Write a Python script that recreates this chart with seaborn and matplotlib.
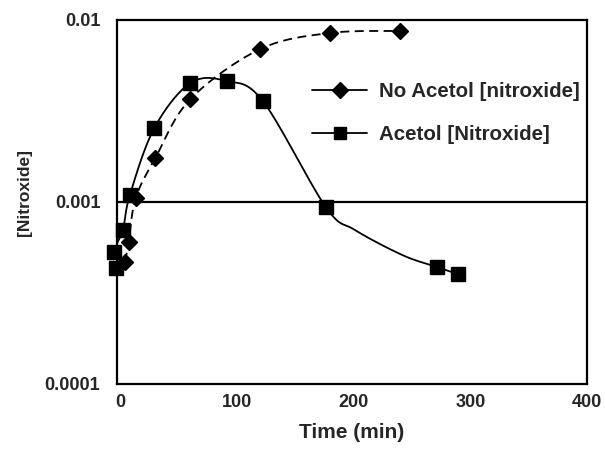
import matplotlib
matplotlib.use("Agg")
import matplotlib.pyplot as plt
from matplotlib.lines import Line2D
import numpy as np
import pandas as pd
import seaborn as sns

# series
no_acetol_t = [4, 7, 13, 30, 60, 120, 180, 240]
no_acetol_c = [0.00047, 0.00060, 0.00105, 0.00175, 0.00368, 0.00693, 0.00849, 0.00870]

acetol_t = [-4, -6, 2, 8, 29, 60, 91, 122, 176, 271, 289]
acetol_c = [0.000434, 0.000531, 0.000702, 0.00109, 0.00255, 0.00451, 0.00462,
            0.00359, 0.000939, 0.00044, 0.000402]
# unmarked bends of the solid curve between 176 and 271 min
acetol_line_t = [-4, -6, 2, 8, 29, 60, 91, 122, 176, 201, 242, 271, 289]
acetol_line_c = [0.000434, 0.000531, 0.000702, 0.00109, 0.00255, 0.00451, 0.00462,
                 0.00359, 0.000939, 0.000702, 0.00051, 0.00044, 0.000402]

xticks = [0, 100, 200, 300, 400]
yticks = [0.0001, 0.001, 0.01]
ytick_labels = ["0.0001", "0.001", "0.01"]

XMIN, XMAX = -3, 400
YMIN, YMAX = 0.0001, 0.01


def smooth(t, c, n=30):
    # Catmull-Rom through the nodes, done in screen-like space (log y)
    w, h = 470.0, 364.0
    u = (np.array(t, float) - XMIN) / (XMAX - XMIN) * w
    v = (np.log10(c) - np.log10(YMIN)) / (np.log10(YMAX) - np.log10(YMIN)) * h
    p = np.column_stack([u, v])
    p = np.vstack([p[0], p, p[-1]])
    out = []
    s = np.linspace(0, 1, n, endpoint=False)[:, None]
    for i in range(1, len(p) - 2):
        p0, p1, p2, p3 = p[i - 1], p[i], p[i + 1], p[i + 2]
        seg = 0.5 * ((2 * p1) + (-p0 + p2) * s + (2 * p0 - 5 * p1 + 4 * p2 - p3) * s ** 2
                     + (-p0 + 3 * p1 - 3 * p2 + p3) * s ** 3)
        out.append(seg)
    out.append(p[-2][None, :])
    q = np.vstack(out)
    x = q[:, 0] / w * (XMAX - XMIN) + XMIN
    y = 10 ** (q[:, 1] / h * (np.log10(YMAX) - np.log10(YMIN)) + np.log10(YMIN))
    return pd.DataFrame({"t": x, "c": y})


sns.set_style("white")
plt.rcParams["font.family"] = ["Liberation Sans", "DejaVu Sans"]
plt.rcParams["font.weight"] = "bold"

fig = plt.figure(figsize=(6.05, 4.49), dpi=100)
ax = fig.add_axes([117 / 605, 1 - 384 / 449, 470 / 605, 364 / 449])

ax.axhline(0.001, color="black", lw=1.6, zorder=1)

sns.lineplot(data=smooth(no_acetol_t, no_acetol_c), x="t", y="c", sort=False,
             estimator=None, color="black", lw=1.3, ax=ax, zorder=2)
ax.lines[-1].set_dashes([5, 3])
sns.lineplot(data=smooth(acetol_line_t, acetol_line_c), x="t", y="c", sort=False,
             estimator=None, color="black", lw=1.3, ax=ax, zorder=2)

ax.plot(no_acetol_t, no_acetol_c, ls="none", marker="D", ms=8, color="black",
        clip_on=False, zorder=3)
ax.plot(acetol_t, acetol_c, ls="none", marker="s", ms=10, color="black",
        clip_on=False, zorder=3)

ax.set_yscale("log")
ax.set_xlim(XMIN, XMAX)
ax.set_ylim(YMIN, YMAX)
ax.set_xticks(xticks)
ax.set_xticklabels([str(v) for v in xticks])
ax.set_yticks(yticks)
ax.set_yticklabels(ytick_labels)
ax.minorticks_off()
ax.tick_params(axis="x", direction="in", length=9, width=1.2, pad=7, labelsize=13)
ax.tick_params(axis="y", length=0, pad=12, labelsize=13)
for sp in ax.spines.values():
    sp.set_color("black")
    sp.set_linewidth(1.6)

ax.set_xlabel("Time (min)", fontsize=15, fontweight="bold", labelpad=9)
ax.set_ylabel("[Nitroxide]", fontsize=12.5, fontweight="bold")
ax.yaxis.set_label_coords(-0.18, 0.525)

handles = [
    Line2D([], [], color="black", lw=1.3, marker="D", ms=8),
    Line2D([], [], color="black", lw=1.3, marker="s", ms=9),
]
ax.legend(handles, ["No Acetol [nitroxide]", "Acetol [Nitroxide]"], frameon=False,
          loc="upper left", bbox_to_anchor=(0.375, 0.88),
          handlelength=2.7, labelspacing=1.15, handletextpad=0.55,
          prop={"weight": "bold", "size": 14.8})

fig.savefig("out.png", dpi=100)
